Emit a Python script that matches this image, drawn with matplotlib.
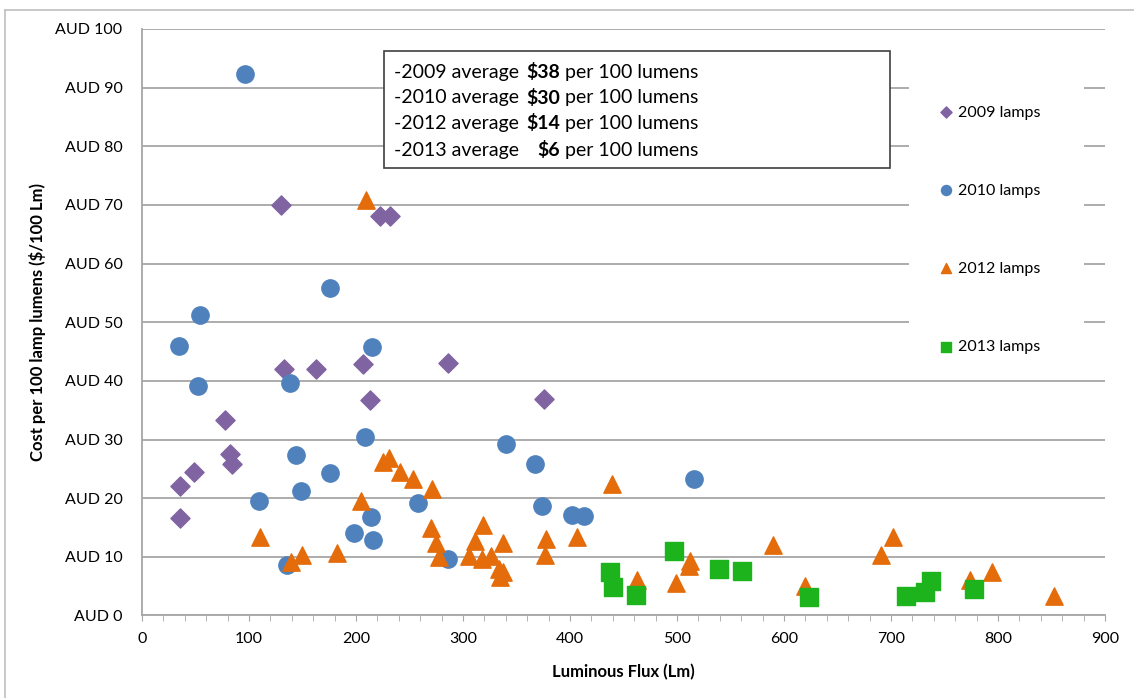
import matplotlib
matplotlib.use('Agg')
import matplotlib.pyplot as plt
from matplotlib.patches import Rectangle
from matplotlib.lines import Line2D

plt.rcParams['font.family'] = ['Lato', 'DejaVu Sans']

# lamp survey: luminous flux (Lm) vs cost per 100 lumens (AUD)
flux_2009 = [36, 36, 49, 78, 82, 84, 130, 133, 163, 207, 213, 222, 232, 286, 376]
cost_2009 = [16.6, 22.1, 24.5, 33.3, 27.5, 25.8, 70.0, 42.0, 42.0, 42.8, 36.7, 68.1, 68.1, 43.0, 36.9]

flux_2010 = [96, 176, 54, 35, 215, 52, 138, 208, 144, 176, 149, 109, 258, 214, 198, 216,
             136, 286, 340, 367, 374, 402, 413, 516]
cost_2010 = [92.4, 55.9, 51.3, 46.0, 45.8, 39.2, 39.6, 30.5, 27.3, 24.3, 21.2, 19.6, 19.2, 16.8, 14.1, 12.9,
             8.6, 9.7, 29.3, 25.8, 18.7, 17.2, 16.9, 23.2]

flux_2012 = [209, 110, 139, 150, 182, 205, 225.5, 231, 241, 253, 271, 270, 275, 278, 306, 311,
             319, 318, 326.5, 337, 334, 337, 335, 378, 377, 407, 439, 463, 499, 512, 511, 590,
             620, 691, 701.5, 774, 794, 852]
cost_2012 = [70.8, 13.3, 9.2, 10.3, 10.7, 19.6, 26.2, 26.9, 24.4, 23.2, 21.5, 14.9, 12.3, 10.0, 10.1, 12.7,
             15.5, 9.6, 10.1, 12.3, 8.0, 7.4, 6.6, 13.0, 10.3, 13.4, 22.5, 6.1, 5.5, 9.3, 8.4, 12.1,
             5.0, 10.3, 13.4, 6.0, 7.4, 3.4]

flux_2013 = [437, 440, 462, 497, 539, 561, 623, 714.5, 732, 737.6, 777.7]
cost_2013 = [7.5, 4.9, 3.5, 11.0, 7.9, 7.6, 3.2, 3.3, 4.0, 5.9, 4.5]

# averages shown in the note box
avg_years = ['2009', '2010', '2012', '2013']
avg_costs = [38, 30, 14, 6]

grid_col = '#A6A6A6'

fig = plt.figure(figsize=(11.34, 6.98), dpi=100)
ax = fig.add_axes([0.1252, 0.1182, 0.8492, 0.8403])

ax.scatter(flux_2009, cost_2009, marker='D', s=95, color='#8064A2', label='2009 lamps', zorder=3)
ax.scatter(flux_2010, cost_2010, marker='o', s=155, color='#4F81BD', label='2010 lamps', zorder=3)
ax.scatter(flux_2012, cost_2012, marker='^', s=155, color='#E46C0A', label='2012 lamps', zorder=3)
ax.scatter(flux_2013, cost_2013, marker='s', s=180, color='#1DB31D', label='2013 lamps', zorder=3)

ax.set_xlim(0, 900)
ax.set_ylim(0, 100)
ax.set_xticks(range(0, 901, 100))
ax.set_xticks(range(0, 901, 20), minor=True)
ax.set_yticks(range(0, 101, 10))
ax.set_yticklabels(['AUD %d' % v for v in range(0, 101, 10)])

ax.set_axisbelow(True)
ax.grid(axis='y', color=grid_col, linewidth=1.3)
for side in ['top', 'right']:
    ax.spines[side].set_visible(False)
for side in ['left', 'bottom']:
    ax.spines[side].set_color(grid_col)
    ax.spines[side].set_linewidth(1.3)

ax.tick_params(axis='y', length=0, pad=14, labelsize=11.5)
ax.tick_params(axis='x', which='both', length=4, color=grid_col, pad=8, labelsize=11.5)

ax.set_xlabel('Luminous Flux (Lm)', fontsize=12, fontweight='bold', labelpad=13)
ax.set_ylabel('Cost per 100 lamp lumens ($/100 Lm)', fontsize=12, fontweight='bold', labelpad=7)

# white panel behind the legend hides the gridlines
ax.add_patch(Rectangle((0.796, 0.42), 0.182, 0.545, transform=ax.transAxes,
                       facecolor='white', edgecolor='none', zorder=1))
leg = ax.legend(loc='center left', bbox_to_anchor=(0.821, 0.658), frameon=False,
                fontsize=11.5, labelspacing=4.0, handlelength=0.7, handletextpad=0.4,
                borderpad=0, markerscale=0.58)

# note box with the yearly averages
ax.add_patch(Rectangle((226, 76.3), 473, 20.0, facecolor='white', edgecolor='#404040',
                       linewidth=1.2, zorder=4))
line_y = [92.6, 88.3, 83.9, 79.3]
for yr, c, yy in zip(avg_years, avg_costs, line_y):
    ax.text(236, yy, '-%s average' % yr, fontsize=14, va='center', ha='left', zorder=5)
    ax.text(391, yy, '\\$%d' % c, fontsize=14, fontweight='bold', va='center', ha='right', zorder=5)
    ax.text(395, yy, 'per 100 lumens', fontsize=14, va='center', ha='left', zorder=5)

# chart border
fig.add_artist(Line2D([5 / 1134, 5 / 1134], [0, 1 - 10 / 698], transform=fig.transFigure,
                      color='#BFBFBF', linewidth=1.2))
fig.add_artist(Line2D([5 / 1134, 1], [1 - 10 / 698, 1 - 10 / 698], transform=fig.transFigure,
                      color='#BFBFBF', linewidth=1.2))

fig.savefig('out.png', dpi=100)
